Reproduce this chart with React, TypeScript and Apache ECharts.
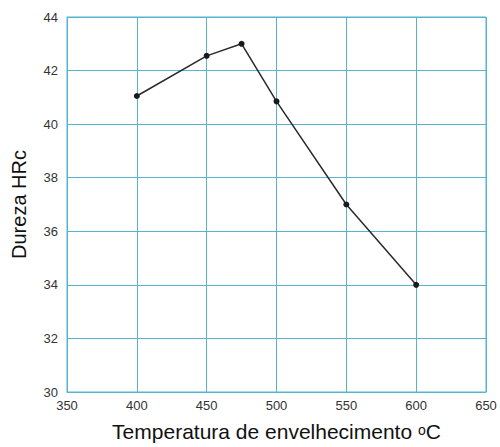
import React, { useEffect, useRef } from "react";
import * as echarts from "echarts";

const temperatures = [400, 450, 475, 500, 550, 600];
const hardness = [41.05, 42.55, 43.0, 40.85, 37.0, 34.0];
const xTicks = [350, 400, 450, 500, 550, 600, 650];
const yTicks = [30, 32, 34, 36, 38, 40, 42, 44];

const gridColor = "#56b4ce";
const font = "Liberation Sans, Arial, sans-serif";

export default function App() {
  const ref = useRef<HTMLDivElement>(null);
  useEffect(() => {
    if (!ref.current) return;
    const chart = echarts.init(ref.current, undefined, { renderer: "svg" });
    chart.setOption({
      animation: false,
      backgroundColor: "#ffffff",
      grid: {
        left: 67,
        right: 14,
        top: 17,
        bottom: 52,
        show: true,
        borderColor: gridColor,
        borderWidth: 1,
      },
      xAxis: {
        type: "value",
        min: xTicks[0],
        max: xTicks[xTicks.length - 1],
        interval: 50,
        name: "Temperatura de envelhecimento {s|o}C",
        nameLocation: "middle",
        nameGap: 29,
        nameTextStyle: {
          fontFamily: font,
          fontSize: 21,
          color: "#111",
          rich: { s: { fontSize: 14, fontFamily: font, color: "#111", verticalAlign: "middle", padding: [0, 0, 4, 0] } },
        },
        axisLine: { show: true, lineStyle: { color: gridColor } },
        axisTick: { show: false },
        axisLabel: { fontFamily: font, fontSize: 13, color: "#333", margin: 7 },
        splitLine: { show: true, lineStyle: { color: gridColor, width: 1 } },
      },
      yAxis: {
        type: "value",
        min: yTicks[0],
        max: yTicks[yTicks.length - 1],
        interval: 2,
        name: "Dureza HRc",
        nameLocation: "middle",
        nameGap: 38,
        nameTextStyle: { fontFamily: font, fontSize: 20, color: "#111" },
        axisLine: { show: true, lineStyle: { color: gridColor } },
        axisTick: { show: false },
        axisLabel: { fontFamily: font, fontSize: 13, color: "#333", margin: 9 },
        splitLine: { show: true, lineStyle: { color: gridColor, width: 1 } },
      },
      series: [
        {
          type: "line",
          data: temperatures.map((t, i) => [t, hardness[i]]),
          symbol: "circle",
          symbolSize: 6,
          itemStyle: { color: "#1a1a1a" },
          lineStyle: { color: "#2a2a2a", width: 1.5 },
        },
      ],
    });
    return () => chart.dispose();
  }, []);
  return <div ref={ref} style={{ width: 500, height: 447, position: "absolute", left: 0, top: 0 }} />;
}
